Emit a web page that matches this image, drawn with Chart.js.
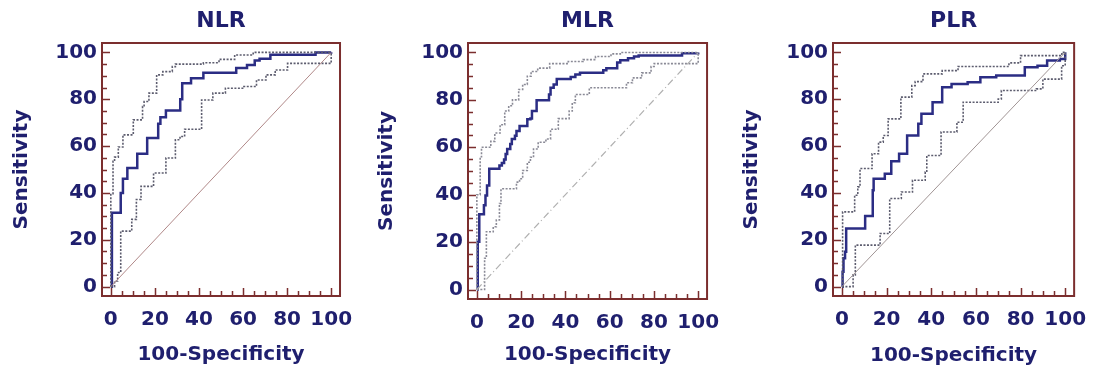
<!DOCTYPE html>
<html>
<head>
<meta charset="utf-8">
<script src="https://cdn.jsdelivr.net/npm/chart.js@4.4.1/dist/chart.umd.min.js"></script>
<style>
  html, body { margin: 0; padding: 0; background: #fff; }
  body { width: 1099px; height: 376px; position: relative; overflow: hidden; }
  .panel { position: absolute; top: 0; height: 376px; }
</style>
</head>
<body>
<div class="panel" style="left:0px;width:365px"><canvas id="nlr"></canvas></div>
<div class="panel" style="left:365px;width:367px"><canvas id="mlr"></canvas></div>
<div class="panel" style="left:730px;width:369px"><canvas id="plr"></canvas></div>
<script>
// tick labels (both axes)
const tickValues = [0, 20, 40, 60, 80, 100];
const xTitle = '100-Specificity';
const yTitle = 'Sensitivity';

// ROC staircases: at each x the curve rises to y, then runs right to the next x
// NLR
const nlrRocX = [0.5, 4.5, 5.5, 7.5, 12, 16.5, 21.5, 22.5, 25, 31.5, 32.4, 36.4, 42, 56.9, 61.8, 65.3, 67.5, 72.4, 92.9, 100];
const nlrRocY = [31.5, 40, 46, 50.6, 56.7, 63.4, 69.5, 72.3, 75.2, 80, 86.8, 89, 91.3, 93.3, 94.6, 96.5, 97.3, 99, 99.9, 100];
const nlrUpX = [0, 1, 1.7, 3.4, 5.5, 10.2, 14.4, 15.1, 17.3, 20.8, 23.6, 27.9, 29.3, 42, 49.1, 56.2, 64.6, 100];
const nlrUpY = [39.7, 53.5, 55.3, 59.6, 64.8, 71.2, 76.9, 79, 82.6, 90.4, 91.8, 93.9, 95, 95.6, 97, 98.9, 100, 100];
const nlrLoX = [1.7, 3.1, 4.5, 9.5, 11.6, 13.7, 19.4, 25, 29.3, 31.4, 33.5, 41.2, 46.3, 52, 60.4, 66.1, 70.4, 74.6, 80.2, 100];
const nlrLoY = [2.4, 6, 23.7, 28.7, 37.2, 42.8, 48.5, 54.9, 62.7, 64.1, 67.2, 79.7, 82.6, 84.7, 85.4, 88.2, 90.4, 92.5, 95.3, 100];

// MLR
const mlrRocX = [0.4, 1.1, 3.2, 3.9, 4.6, 5.6, 10.2, 11.3, 12.3, 13, 13.7, 15.1, 15.8, 17.2, 17.9, 19.3, 22.8, 24.2, 24.9, 27, 32.6, 33.3, 34.7, 36.1, 42.4, 44.5, 46.6, 57.1, 58.5, 63.4, 64.8, 68.3, 71, 73.1, 92.7, 100];
const mlrRocY = [20.2, 31.8, 35.6, 39.7, 43.9, 50.9, 52.3, 53.4, 54.8, 57.2, 59.3, 61.4, 63.5, 64.9, 66.9, 69, 71.8, 72.1, 75.3, 79.9, 82.3, 85.1, 86.5, 88.8, 89.7, 90.7, 91.4, 92.5, 93.4, 95.8, 96.7, 97.6, 98.3, 98.7, 99.7, 100];
const mlrUpX = [0, 1.5, 2.1, 6.3, 8.1, 10.5, 12.6, 14.4, 16.1, 18.9, 20.7, 22.8, 24.5, 27.5, 32.9, 41.3, 48, 53.6, 60.6, 64.8, 100];
const mlrUpY = [40, 56, 60, 62.5, 66, 69.5, 75.3, 77.5, 80, 84.4, 86.5, 90, 92, 93.4, 95.3, 96.2, 97, 98.3, 99.4, 100, 100];
const mlrLoX = [3.2, 3.5, 4.3, 7.4, 8.8, 10.2, 10.9, 17.9, 19.3, 20.7, 22.8, 24.2, 25.6, 27.7, 31.2, 33.3, 36.8, 41.7, 43.1, 44.5, 50.8, 67.6, 70.3, 74.5, 78.7, 80.1, 100];
const mlrLoY = [0, 13.2, 24.4, 26.5, 29.3, 36.3, 42.5, 45.3, 46.7, 50.2, 53.7, 55.8, 59.3, 62.1, 63.5, 67.6, 72.1, 75.3, 78.8, 82.3, 85.1, 87.2, 89.3, 91.4, 94.1, 95.3, 100];

// PLR
const plrRocX = [0.3, 0.7, 1.4, 1.9, 10.4, 13.8, 14.2, 19.2, 22.1, 25.6, 29.2, 34.2, 35.6, 40.6, 44.9, 49.1, 56.3, 62, 69.1, 81.9, 87.6, 91.9, 97.6, 100];
const plrRocY = [6.4, 12.1, 14.9, 24.8, 30.2, 41.1, 46.1, 48.2, 53.5, 56.7, 64.5, 69.5, 73.8, 78.7, 85.1, 86.5, 87.2, 89.4, 90.1, 93.6, 94.3, 96.5, 97.2, 100];
const plrUpX = [0.3, 5.7, 7.1, 8.1, 13.5, 16.4, 18.5, 20.7, 26.4, 31.3, 32.8, 36.3, 44.9, 52, 74.8, 80, 98.5, 100];
const plrUpY = [31.9, 39, 42.6, 50.4, 56.7, 61.7, 64.5, 71.6, 80.9, 85.8, 87.5, 90.8, 92.2, 94, 95.5, 98.6, 100, 100];
const plrLoX = [3.5, 5, 6, 17.1, 21.4, 26.6, 31.6, 37.3, 38, 44.4, 51.5, 54.3, 70, 71.4, 87.1, 90, 98.4, 100];
const plrLoY = [0, 5, 17.7, 22.7, 37.6, 40.4, 45.4, 48.9, 56, 66, 70.2, 78.7, 80.1, 83.7, 84.4, 88.6, 94.3, 100];

// reference line
const diagX = [0, 100];
const diagY = [0, 100];

const navy = '#1f1f6e';
const frameColor = '#7b2e2e';
Chart.defaults.font.family = "'DejaVu Sans', sans-serif";
Chart.defaults.font.weight = 'bold';

function stairs(xs, ys) {
  const pts = [{ x: 0, y: 0 }];
  let prev = 0;
  xs.forEach((x, i) => {
    pts.push({ x: x, y: prev });
    pts.push({ x: x, y: ys[i] });
    prev = ys[i];
  });
  return pts;
}

function lineSet(points, color, width, dash) {
  return {
    data: points,
    showLine: true,
    borderColor: color,
    borderWidth: width,
    borderDash: dash,
    pointRadius: 0,
    fill: false,
    tension: 0
  };
}

// frame and inward tick marks
const framePlugin = {
  id: 'frame',
  afterDatasetsDraw(chart) {
    const { ctx, chartArea: a, scales } = chart;
    ctx.save();
    ctx.strokeStyle = frameColor;
    ctx.lineWidth = 2;
    ctx.strokeRect(a.left, a.top, a.right - a.left, a.bottom - a.top);
    ctx.lineWidth = 1.5;
    ctx.beginPath();
    for (let v = 0; v <= 100; v += 5) {
      const len = v % 20 === 0 ? 8 : 5;
      const py = Math.round(scales.y.getPixelForValue(v)) + 0.5;
      ctx.moveTo(a.left, py);
      ctx.lineTo(a.left + len, py);
      const px = Math.round(scales.x.getPixelForValue(v)) + 0.5;
      ctx.moveTo(px, a.bottom);
      ctx.lineTo(px, a.bottom - len);
    }
    ctx.stroke();
    ctx.restore();
  }
};

function makeChart(id, title, roc, up, lo, diagStyle, band, box) {
  const axisFont = { size: 20, weight: 'bold' };
  new Chart(document.getElementById(id), {
    type: 'scatter',
    data: {
      datasets: [
        lineSet(diagX.map((x, i) => ({ x: x, y: diagY[i] })), diagStyle.color, diagStyle.width, diagStyle.dash),
        lineSet(stairs(up[0], up[1]), band, 1.6, [2, 1.5]),
        lineSet(stairs(lo[0], lo[1]), band, 1.6, [2, 1.5]),
        lineSet(stairs(roc[0], roc[1]), '#2b2d84', 2.5, [])
      ]
    },
    options: {
      responsive: true,
      maintainAspectRatio: false,
      animation: false,
      layout: { padding: { left: 0, right: box.padR, top: 0, bottom: 0 } },
      plugins: {
        legend: { display: false },
        tooltip: { enabled: false },
        title: {
          display: true,
          text: title,
          color: navy,
          fullSize: false,
          font: { size: 22, weight: 'bold' },
          padding: { top: 8, bottom: 8.6 }
        }
      },
      scales: {
        x: {
          type: 'linear',
          min: -4,
          max: 104,
          afterBuildTicks: s => { s.ticks = tickValues.map(v => ({ value: v })); },
          afterFit: s => { s.height = box.xh; },
          grid: { display: false, drawTicks: false },
          border: { display: false },
          ticks: { color: navy, font: axisFont, padding: 12, maxRotation: 0, autoSkip: false },
          title: { display: true, text: xTitle, color: navy, font: axisFont, padding: { top: 0, bottom: box.xtPad } }
        },
        y: {
          type: 'linear',
          min: -4,
          max: 104,
          afterBuildTicks: s => { s.ticks = tickValues.map(v => ({ value: v })); },
          afterFit: s => { s.width = box.yw; },
          grid: { display: false, drawTicks: false },
          border: { display: false },
          ticks: { color: navy, font: axisFont, padding: 5, autoSkip: false },
          title: { display: true, text: yTitle, color: navy, font: axisFont, padding: { top: 10, bottom: 0 } }
        }
      }
    },
    plugins: [framePlugin]
  });
}

makeChart('nlr', 'NLR', [nlrRocX, nlrRocY], [nlrUpX, nlrUpY], [nlrLoX, nlrLoY],
  { color: '#b08888', width: 1, dash: [] }, '#5c5c6e',
  { yw: 102, xh: 80, padR: 10, xtPad: 9 });
makeChart('mlr', 'MLR', [mlrRocX, mlrRocY], [mlrUpX, mlrUpY], [mlrLoX, mlrLoY],
  { color: '#b0b0b0', width: 1.2, dash: [7, 3, 1, 3] }, '#8a8a96',
  { yw: 103, xh: 77, padR: 8, xtPad: 9 });
makeChart('plr', 'PLR', [plrRocX, plrRocY], [plrUpX, plrUpY], [plrLoX, plrLoY],
  { color: '#a09494', width: 1, dash: [] }, '#5c5c6e',
  { yw: 103, xh: 80, padR: 13, xtPad: 8 });
</script>
</body>
</html>
